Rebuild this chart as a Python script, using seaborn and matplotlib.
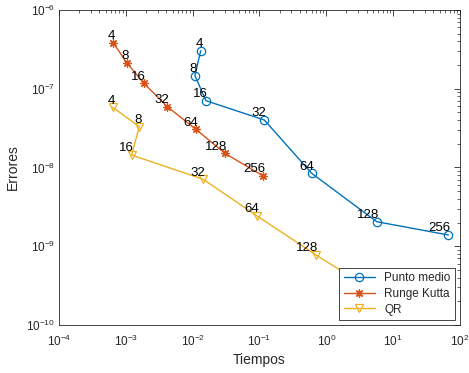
import numpy as np
import pandas as pd
import matplotlib
matplotlib.use("Agg")
import matplotlib.pyplot as plt
import seaborn as sns

sns.set_style("white")
plt.rcParams['font.family'] = ['Liberation Sans', 'DejaVu Sans']

n_vals = [4, 8, 16, 32, 64, 128, 256]

# Punto medio
t_pm = [0.0132, 0.0108, 0.0158, 0.118, 0.604, 5.67, 66.9]
e_pm = [3.04e-7, 1.47e-7, 7.05e-8, 4.01e-8, 8.44e-9, 2.05e-9, 1.39e-9]

# Runge Kutta
t_rk = [6.49e-4, 1.03e-3, 1.87e-3, 4.18e-3, 0.0112, 0.0305, 0.114]
e_rk = [3.84e-7, 2.14e-7, 1.17e-7, 5.92e-8, 3.05e-8, 1.51e-8, 7.8e-9]

# QR
t_qr = [6.36e-4, 1.59e-3, 1.22e-3, 0.0144, 0.0908, 0.702, 5.35]
e_qr = [5.81e-8, 3.30e-8, 1.44e-8, 7.08e-9, 2.44e-9, 7.74e-10, 2.62e-10]

metodos = ['Punto medio', 'Runge Kutta', 'QR']
colores = ['#0072BD', '#D95319', '#EDB120']
marcadores = ['o', (8, 2, 0), 'v']

df = pd.concat([
    pd.DataFrame({'tiempo': t, 'error': e, 'n': n_vals, 'metodo': m})
    for t, e, m in zip([t_pm, t_rk, t_qr], [e_pm, e_rk, e_qr], metodos)
])

fig = plt.figure(figsize=(4.69, 3.73), dpi=100)
ax = fig.add_axes([0.1258, 0.1287, 0.855, 0.8445])

for m, c, mk in zip(metodos, colores, marcadores):
    sub = df[df.metodo == m]
    sns.lineplot(data=sub, x='tiempo', y='error', ax=ax, sort=False,
                 color=c, marker=mk, markersize=6,
                 markerfacecolor='none', markeredgecolor=c,
                 markeredgewidth=0.9, linewidth=1.0,
                 label=m, legend=False)
    for _, r in sub.iterrows():
        ax.annotate(str(r.n), (r.tiempo, r.error), xytext=(1.5, 0.5),
                    textcoords='offset points', ha='right', va='bottom',
                    fontsize=9.5, color='black')

ax.set_xscale('log')
ax.set_yscale('log')
ax.set_xlim(1e-4, 1e2)
ax.set_ylim(1e-10, 1e-6)
ax.set_xlabel('Tiempos', fontsize=10, labelpad=3)
ax.set_ylabel('Errores', fontsize=10, labelpad=4)
ax.tick_params(which='both', direction='in', top=True, right=True,
               labelsize=8.5, colors='#262626')
ax.tick_params(axis='x', which='major', pad=6)
ax.tick_params(axis='y', which='major', pad=3)
ax.tick_params(which='major', length=4, width=0.6)
ax.tick_params(which='minor', length=2, width=0.5)
for s in ax.spines.values():
    s.set_color('#262626')
    s.set_linewidth(0.6)

leg = ax.legend(loc='lower right', fontsize=8.5, frameon=True, fancybox=False,
                edgecolor='#262626', framealpha=1, borderaxespad=0.4,
                handlelength=2.6, borderpad=0.4, labelspacing=0.3)
leg.get_frame().set_linewidth(0.6)
leg.set_zorder(10)

fig.savefig('out.png', dpi=100)
